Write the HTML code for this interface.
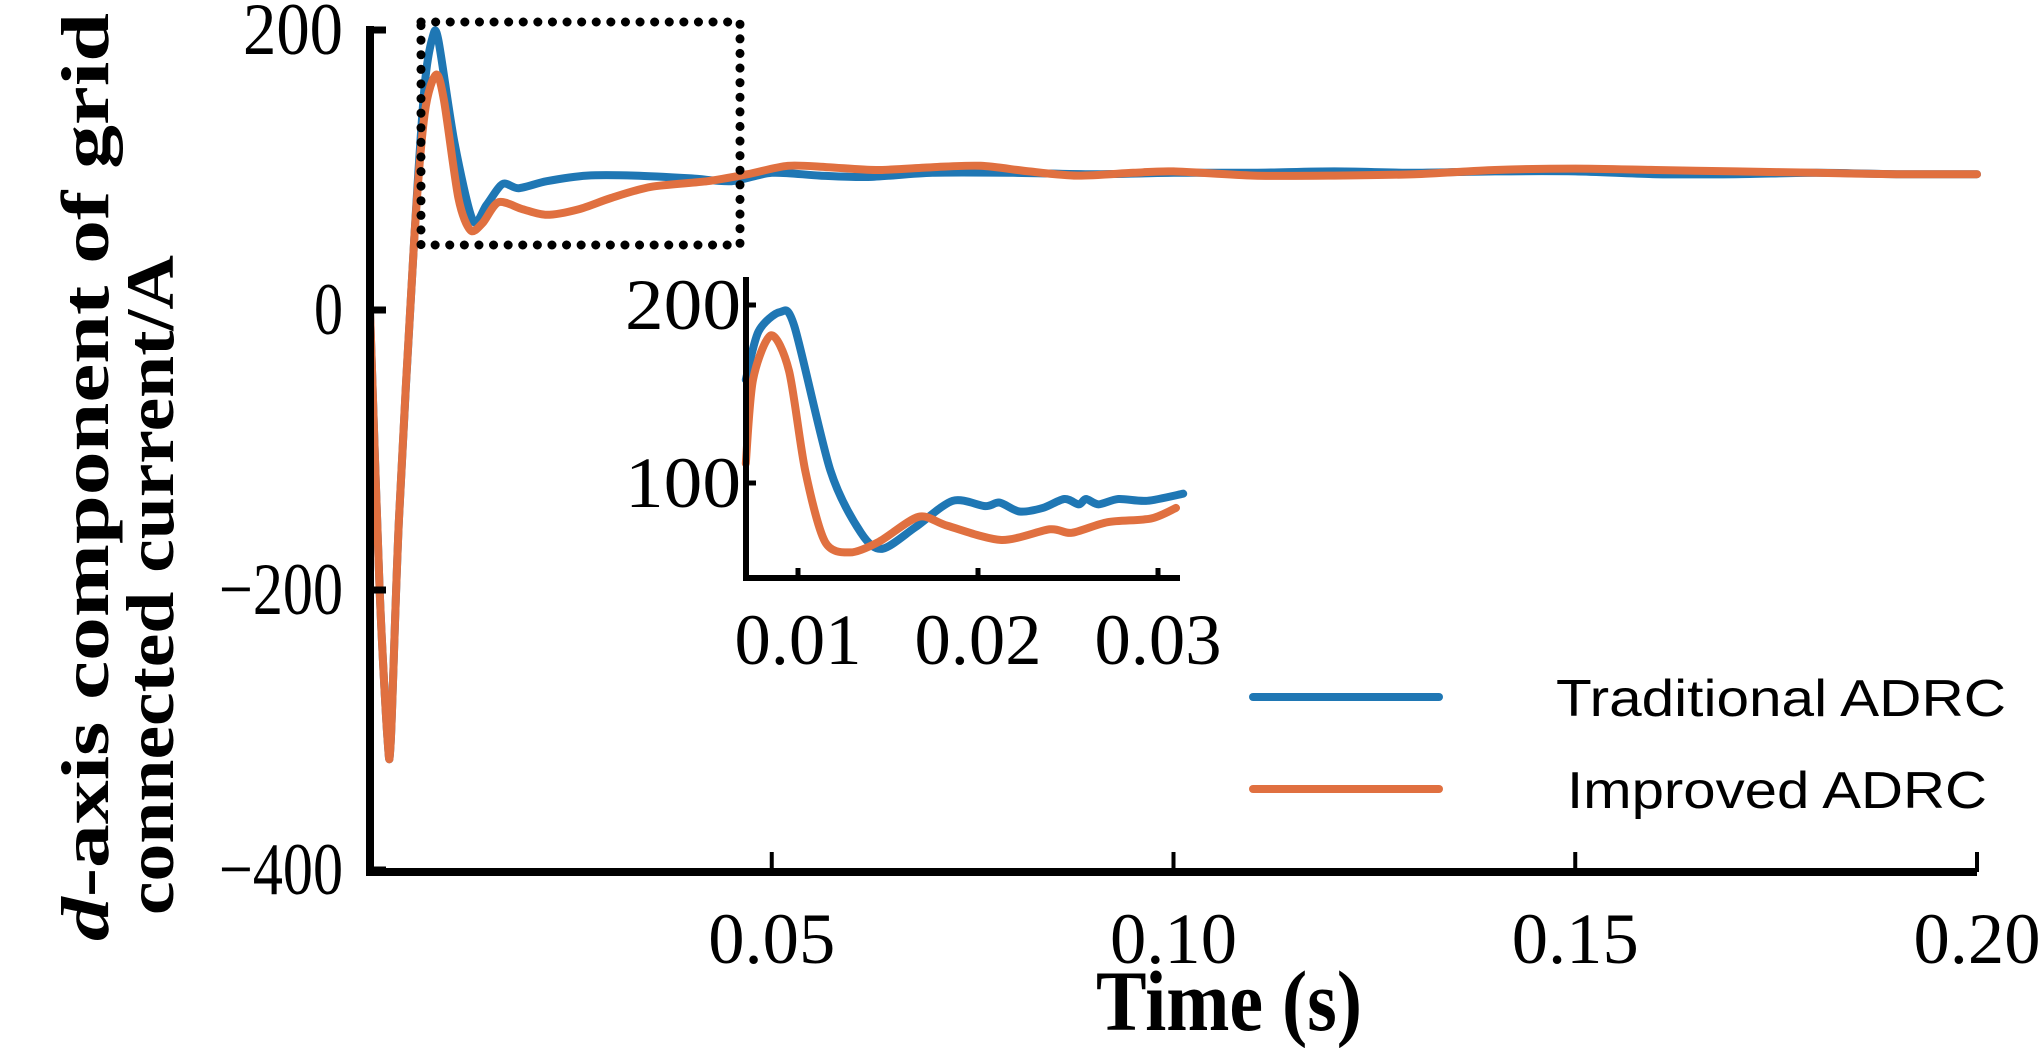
<!DOCTYPE html>
<html><head><meta charset="utf-8"><style>
html,body{margin:0;padding:0;background:#fff;}
svg{display:block;}
text{font-family:"Liberation Serif",serif;fill:#000;}
</style></head><body>
<svg id="chart" width="2041" height="1048" viewBox="0 0 2041 1048" xmlns="http://www.w3.org/2000/svg">
<g id="main"></g>
<g id="inset"></g>
<rect x="421" y="22" width="319" height="223" fill="none" stroke="#000" stroke-width="9" stroke-dasharray="0.1 14.5" stroke-linecap="round"/>
<text x="1229" y="1030" font-size="86" font-weight="bold" text-anchor="middle" textLength="266" lengthAdjust="spacingAndGlyphs">Time (s)</text>
<g font-weight="bold" font-size="68">
<text transform="translate(108,477) rotate(-90)" text-anchor="middle" textLength="928" lengthAdjust="spacingAndGlyphs"><tspan font-style="italic">d</tspan>-axis component of grid</text>
<text transform="translate(173,585) rotate(-90)" text-anchor="middle" textLength="660" lengthAdjust="spacingAndGlyphs">connected current/A</text>
</g>
<g>
<line x1="1253" y1="697" x2="1439" y2="697" stroke="#1f77b4" stroke-width="8" stroke-linecap="round"/>
<text x="1556" y="716" font-size="52" textLength="450" lengthAdjust="spacingAndGlyphs" style="font-family:'Liberation Sans',sans-serif">Traditional ADRC</text>
<line x1="1253" y1="789" x2="1439" y2="789" stroke="#e07040" stroke-width="8" stroke-linecap="round"/>
<text x="1567" y="808" font-size="52" textLength="420" lengthAdjust="spacingAndGlyphs" style="font-family:'Liberation Sans',sans-serif">Improved ADRC</text>
</g>
</svg>
<script>
const mainYTicks=[200,0,-200,-400];
const mainXTicks=[0.05,0.10,0.15,0.20];
const mainXLabels=["0.05","0.10","0.15","0.20"];
const tradT=[0,0.0012,0.0022,0.0026,0.0036,0.0055,0.0068,0.0078,0.0085,0.0105,0.0128,0.0145,0.0165,0.0185,0.022,0.027,0.033,0.04,0.045,0.05,0.056,0.062,0.07,0.08,0.09,0.1,0.11,0.12,0.13,0.14,0.15,0.16,0.17,0.18,0.19,0.2];
const tradV=[0,-200,-308,-306,-150,50,160,195,193,120,64,75,90,87,92,96,96,94,92,98,96,95,98,98,97,98,98,99,98,99,99,97,97,98,97,97];
const impT=[0,0.0012,0.0022,0.0026,0.0036,0.0055,0.0068,0.0082,0.0092,0.011,0.0125,0.014,0.016,0.019,0.022,0.026,0.03,0.035,0.042,0.047,0.052,0.057,0.063,0.07,0.076,0.082,0.088,0.095,0.1,0.11,0.12,0.13,0.14,0.15,0.16,0.17,0.18,0.19,0.2];
const impV=[0,-200,-308,-306,-150,50,140,168,150,80,57,62,77,72,68,72,80,88,92,97,103,102,100,102,103,99,96,98,99,96,96,97,100,101,100,99,98,97,97];
const insetYTicks=[200,100];
const insetXTicks=[0.01,0.02,0.03];
const insetXLabels=["0.01","0.02","0.03"];
const insTradT=[0.0071,0.0078,0.009,0.0098,0.0118,0.0135,0.01467,0.0165,0.0186,0.0204,0.0212,0.0223,0.0236,0.0248,0.0256,0.026,0.0267,0.0278,0.0294,0.0314];
const insTradV=[158,185,196,188,107,72,63,75,90,87,89,84,86,91,88,91,88,91,90,94];
const insImpT=[0.0071,0.0075,0.0085,0.0095,0.0104,0.0115,0.0129,0.0145,0.0167,0.0183,0.0213,0.024,0.0252,0.0272,0.0296,0.031];
const insImpV=[111,158,183,163,107,67,61,67,81,76,68,74,72,78,80,86];

const NS="http://www.w3.org/2000/svg";
function mk(tag,attrs,parent){const e=document.createElementNS(NS,tag);for(const k in attrs)e.setAttribute(k,attrs[k]);parent.appendChild(e);return e;}
function smooth(xs,ys){let d="M"+xs[0]+","+ys[0];for(let i=0;i<xs.length-1;i++){const x0=xs[Math.max(0,i-1)],y0=ys[Math.max(0,i-1)],x1=xs[i],y1=ys[i],x2=xs[i+1],y2=ys[i+1],x3=xs[Math.min(xs.length-1,i+2)],y3=ys[Math.min(xs.length-1,i+2)];const t=0.14;d+=" C"+(x1+(x2-x0)*t)+","+(y1+(y2-y0)*t)+" "+(x2-(x3-x1)*t)+","+(y2-(y3-y1)*t)+" "+x2+","+y2;}return d;}

// main
const M=document.getElementById('main');
const mx=t=>370+t*(1977-370)/0.2;
const my=v=>310-v*1.40;
function series(g,T,V,sx,sy,color,name){const p=mk('path',{d:smooth(T.map(sx),V.map(sy)),fill:'none',stroke:color,'stroke-width':8,'stroke-linejoin':'round','stroke-linecap':'round'},g);

}
series(M,tradT,tradV,mx,my,'#1f77b4','traditional-adrc-line');
series(M,impT,impV,mx,my,'#e07040','improved-adrc-line');
mk('path',{d:"M370,"+(my(200)-4)+" V872 H"+mx(0.2),fill:'none',stroke:'#000','stroke-width':8},M);
mainYTicks.forEach(v=>{const l=mk('line',{x1:370,x2:386,y1:my(v),y2:my(v),stroke:'#000','stroke-width':7},M);


const t=mk('text',{x:343,y:my(v)+24,'font-size':74,'text-anchor':'end',textLength:(v<0?124:(v===0?29:100)),lengthAdjust:'spacingAndGlyphs'},M);t.textContent=v<0?"\u2212"+(-v):String(v);

});
mainXTicks.forEach((v,i)=>{const l=mk('line',{x1:mx(v),x2:mx(v),y1:872,y2:852,stroke:'#000','stroke-width':4},M);


const t=mk('text',{x:mx(v),y:963,'font-size':72,'text-anchor':'middle',textLength:127,lengthAdjust:'spacingAndGlyphs'},M);t.textContent=mainXLabels[i];

});

// inset
const I=document.getElementById('inset');
const ix=t=>798+(t-0.01)*18000;
const iy=v=>305+(200-v)*1.78;
series(I,insTradT,insTradV,ix,iy,'#1f77b4','inset-traditional-line');
series(I,insImpT,insImpV,ix,iy,'#e07040','inset-improved-line');
mk('path',{d:"M746,277 V578 H1180",fill:'none',stroke:'#000','stroke-width':6},I);
insetYTicks.forEach(v=>{const l=mk('line',{x1:746,x2:756,y1:iy(v),y2:iy(v),stroke:'#000','stroke-width':5},I);


const t=mk('text',{x:741,y:iy(v)+24,'font-size':72,'text-anchor':'end',textLength:116,lengthAdjust:'spacingAndGlyphs'},I);t.textContent=String(v);

});
insetXTicks.forEach((v,i)=>{const l=mk('line',{x1:ix(v),x2:ix(v),y1:578,y2:568,stroke:'#000','stroke-width':5},I);


const t=mk('text',{x:ix(v),y:664,'font-size':72,'text-anchor':'middle',textLength:127,lengthAdjust:'spacingAndGlyphs'},I);t.textContent=insetXLabels[i];

});
</script>
</body></html>
